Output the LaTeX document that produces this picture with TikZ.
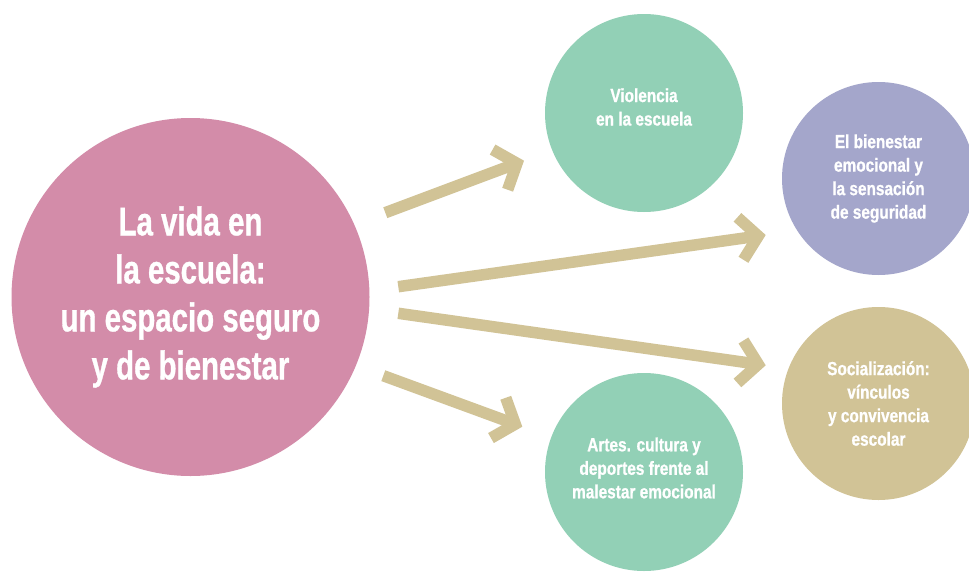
\documentclass[tikz,border=0pt]{standalone}
\usepackage{fontspec}
\usetikzlibrary{calc}
\newfontfamily\bigfont{Liberation Sans Bold}[FakeStretch=0.735, FakeBold=0.8]
\newfontfamily\smallfont{Liberation Sans Bold}[FakeStretch=0.81, FakeBold=0.9]
\definecolor{pinkc}{RGB}{211,140,169}
\definecolor{greenc}{RGB}{146,208,182}
\definecolor{purplec}{RGB}{164,166,203}
\definecolor{tanc}{RGB}{209,195,150}
\begin{document}
\begin{tikzpicture}[x=1pt,y=-1pt,
  circ/.style={circle, inner sep=0pt, text=white, align=center},
  bigtxt/.style={font={\bigfont\fontsize{40}{48}\selectfont}},
  smalltxt/.style={text=white, align=center, inner sep=0pt, font={\smallfont\fontsize{19}{23.5}\selectfont}},
  arr/.style={draw=tanc, line width=11.5pt},
  head/.style={arr, line join=miter}]
\clip (0,0) rectangle (969,573);
\fill[white] (0,0) rectangle (969,573);
% circles
\node[circ, fill=pinkc, minimum size=358pt, bigtxt] (main) at (190.5,297)
  {La vida en\\la escuela:\\un espacio seguro\\y de bienestar};
\node[circ, fill=greenc, minimum size=198pt] (viol) at (644,113) {};
\node[smalltxt] (violt) at ($(viol.center)+(0,-6)$) {Violencia\\en la escuela};
\node[circ, fill=purplec, minimum size=193pt, smalltxt] (bien) at (878.5,178.5)
  {El bienestar\\emocional y\\la sensación\\de seguridad};
\node[circ, fill=tanc, minimum size=193pt, smalltxt] (soc) at (878.5,403.5)
  {Socialización:\\vínculos\\y convivencia\\escolar};
\node[circ, fill=greenc, minimum size=198pt] (arte) at (644,472) {};
\node[smalltxt] (artet) at ($(arte.center)+(0,-4)$) {Artes. cultura y\\deportes frente al\\malestar emocional};
% arrows
\coordinate (s1) at (385.3,212.7); \coordinate (t1) at (524,160.7);
\coordinate (s2) at (398.3,286.7); \coordinate (t2) at (765.7,235);
\coordinate (s3) at (398.3,313.3); \coordinate (t3) at (765.7,365.3);
\coordinate (s4) at (383.3,375.7); \coordinate (t4) at (522.3,426.7);
\foreach \i in {1,2,3,4}{
  \draw[arr] (s\i) -- ($(t\i)!7.5pt!(s\i)$) coordinate (a\i);
  \draw[head] ($(a\i)!28pt!50:(s\i)$) -- (a\i) -- ($(a\i)!28pt!-50:(s\i)$);
}
\end{tikzpicture}
\end{document}
